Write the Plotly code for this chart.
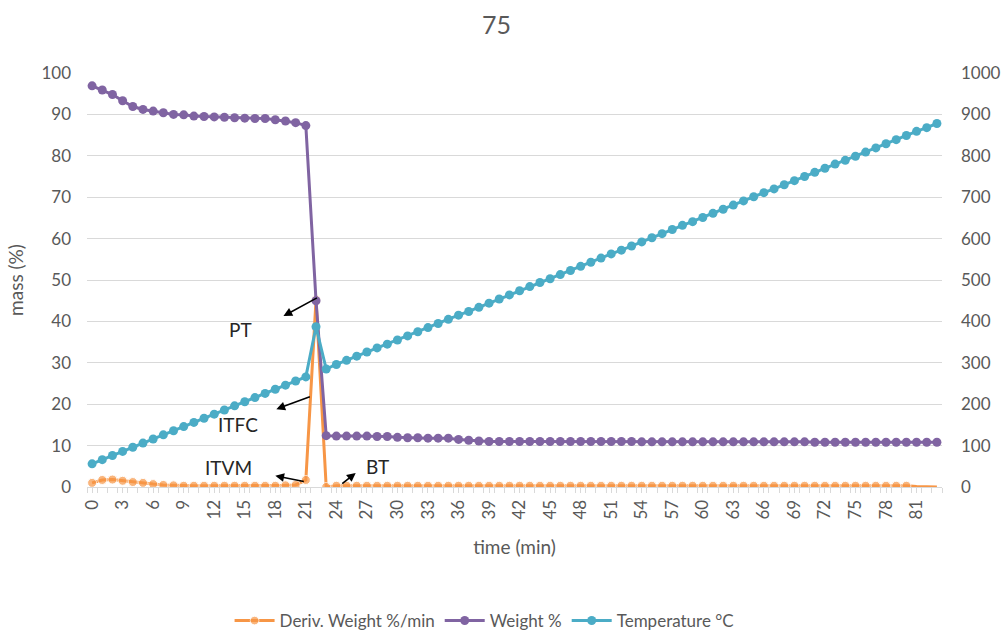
import plotly.graph_objects as go

time_min = list(range(84))

deriv_weight = [1.0, 1.7, 1.8, 1.5, 1.2, 1.0, 0.7, 0.5, 0.4, 0.3, 0.3, 0.3, 0.3, 0.3, 0.3, 0.3, 0.3, 0.3, 0.3, 0.4, 0.5,
                1.7, 45.2, 0.0,
                0.3, 0.3, 0.3, 0.3, 0.3, 0.3, 0.3, 0.3, 0.3, 0.3, 0.3, 0.3, 0.3, 0.3, 0.3, 0.3, 0.3, 0.3, 0.3, 0.3,
                0.3, 0.3, 0.3, 0.3, 0.3, 0.3, 0.3, 0.3, 0.3, 0.3, 0.3, 0.3, 0.3, 0.3, 0.3, 0.3, 0.3, 0.3, 0.3, 0.3,
                0.3, 0.3, 0.3, 0.3, 0.3, 0.3, 0.3, 0.3, 0.3, 0.3, 0.3, 0.3, 0.3, 0.3, 0.3, 0.3, 0.3,
                0.1, 0.0, 0.0]

weight_pct = [96.9, 95.9, 94.8, 93.3, 91.9, 91.2, 90.8, 90.4, 90.0, 89.9, 89.6, 89.5, 89.4, 89.3, 89.2, 89.1, 89.0,
              89.0, 88.7, 88.4, 88.0, 87.3, 45.0, 12.4,
              12.3, 12.3, 12.3, 12.3, 12.2, 12.2, 12.0, 11.9, 11.9, 11.8, 11.8, 11.8, 11.5, 11.3, 11.1,
              11.0, 11.0, 11.0, 11.0, 11.0, 11.0, 11.0, 11.0, 11.0, 11.0, 11.0, 11.0, 11.0, 11.0, 11.0, 10.9,
              10.9, 10.9, 10.9, 10.9, 10.9, 10.9, 10.9, 10.9, 10.9, 10.9, 10.9, 10.9, 10.9, 10.9, 10.9, 10.9,
              10.8, 10.8, 10.8, 10.8, 10.8, 10.8, 10.8, 10.8, 10.8, 10.8, 10.8, 10.8, 10.8]

temperature_c = [56, 66, 76, 86, 96, 106, 116, 126, 136, 146, 156, 166, 176, 186, 196, 206, 216, 226, 236, 246,
                 256, 266, 387, 285, 296, 306, 316, 326, 336, 345, 355, 365, 375, 385, 395, 405, 415, 424, 434,
                 444, 454, 464, 474, 484, 494, 503, 513, 523, 533, 543, 553, 563, 572, 582, 592, 602, 612, 622,
                 632, 641, 651, 661, 671, 681, 691, 701, 711, 720, 730, 740, 750, 760, 770, 780, 789, 799, 809,
                 819, 829, 839, 849, 859, 868, 878]

x_tick_vals = list(range(0, 82, 3))
x_tick_text = [str(v) for v in x_tick_vals]

series_names = ["Deriv. Weight %/min", "Weight %", "Temperature °C"]
title_text = "75"

# annotations: label, text position (x, y) and arrow (head x, head y, tail dx px, tail dy px)
labels = ["PT", "ITFC", "ITVM", "BT"]
label_xy = [(14.6, 38.0), (14.3, 15.0), (13.4, 4.6), (28.0, 4.9)]
arrow_heads = [(18.8, 41.3), (18.1, 18.8), (18.0, 2.7), (25.9, 3.4)]
arrow_tails = [(35, -19), (35, -13), (30, 6), (-15, 12)]

ORANGE = "#F79646"
PURPLE = "#8064A2"
CYAN = "#4BACC6"
GRID = "#D9D9D9"
TXT = "#595959"
FONT = "Lato"

orange_sizes = [9] * 81 + [0] * 3

fig = go.Figure()
fig.add_trace(go.Scatter(x=time_min, y=deriv_weight, name=series_names[0], mode="lines+markers",
                         line=dict(color=ORANGE, width=3), marker=dict(color=ORANGE, size=orange_sizes)))
fig.add_trace(go.Scatter(x=time_min, y=weight_pct, name=series_names[1], mode="lines+markers",
                         line=dict(color=PURPLE, width=3), marker=dict(color=PURPLE, size=9)))
fig.add_trace(go.Scatter(x=time_min, y=temperature_c, name=series_names[2], mode="lines+markers", yaxis="y2",
                         line=dict(color=CYAN, width=3), marker=dict(color=CYAN, size=9)))

annotations = []
for lab, (tx, ty) in zip(labels, label_xy):
    annotations.append(dict(x=tx, y=ty, xref="x", yref="y", text=lab, showarrow=False,
                            font=dict(family=FONT, size=19, color="#262626")))
for (hx, hy), (dx, dy) in zip(arrow_heads, arrow_tails):
    annotations.append(dict(x=hx, y=hy, xref="x", yref="y", text="", showarrow=True, arrowhead=2,
                            arrowsize=1.1, arrowwidth=1.6, arrowcolor="#000000", ax=dx, ay=dy,
                            axref="pixel", ayref="pixel"))

fig.update_layout(
    width=1003, height=631,
    margin=dict(l=87, r=61, t=73, b=144, autoexpand=False),
    paper_bgcolor="white", plot_bgcolor="white",
    font=dict(family=FONT, size=17, color=TXT),
    title=dict(text=title_text, x=0.495, xanchor="center", y=1 - 25 / 631, yanchor="middle",
               font=dict(family=FONT, size=25, color=TXT)),
    xaxis=dict(range=[-0.5, 83.5], tickmode="array", tickvals=x_tick_vals, ticktext=x_tick_text,
               tickangle=-90, showgrid=False, zeroline=False, showline=True, linecolor=GRID, linewidth=1,
               ticks="outside", ticklen=5, tickcolor=GRID, automargin=False,
               minor=dict(ticks="outside", tick0=-0.5, dtick=1, ticklen=5, tickcolor=GRID),
               title=dict(text="time (min)", font=dict(size=19, color=TXT), standoff=22),
               tickfont=dict(size=17, color=TXT)),
    yaxis=dict(range=[0, 100], dtick=10, showgrid=True, gridcolor=GRID, gridwidth=1, zeroline=False,
               showline=False, ticklabelstandoff=15, automargin=False,
               title=dict(text="mass (%)", font=dict(size=19, color=TXT), standoff=12),
               tickfont=dict(size=17, color=TXT)),
    yaxis2=dict(range=[0, 1000], dtick=100, overlaying="y", side="right", showgrid=False, zeroline=False,
                showline=False, ticklabelstandoff=18, automargin=False, tickfont=dict(size=17, color=TXT)),
    legend=dict(orientation="h", x=0.465, xanchor="center", yref="container", y=(631 - 621) / 631,
                yanchor="middle", font=dict(size=17, color=TXT), itemwidth=40, traceorder="normal"),
    showlegend=True,
    annotations=annotations,
)

fig.write_html("out.html")
